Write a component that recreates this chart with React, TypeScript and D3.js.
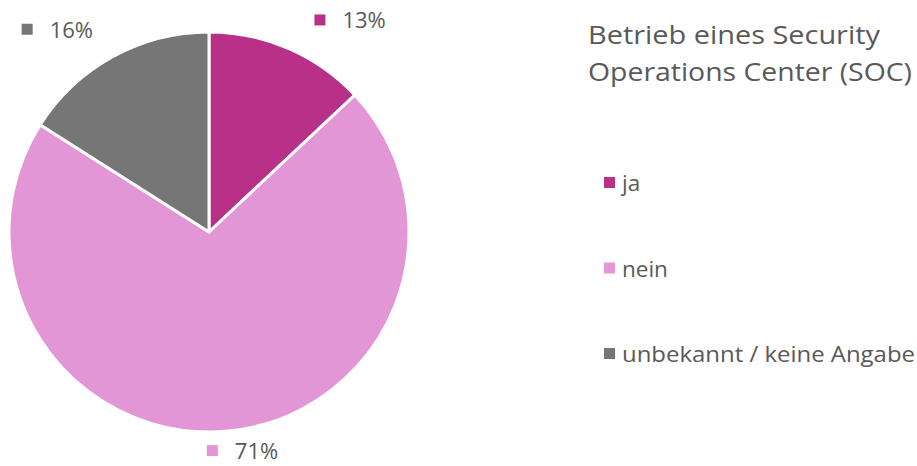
import React from "react";
import * as d3 from "d3";

const categories = ["ja", "nein", "unbekannt / keine Angabe"];
const values = [13, 71, 16];
const colors = ["#B83088", "#E396D6", "#767676"];
const title = ["Betrieb eines Security", "Operations Center (SOC)"];
// label offset (styling) relative to the slice's outer mid point
const labelOffsets = [
  { dx: 64, dy: -28 },
  { dx: 17, dy: 20 },
  { dx: -53, dy: -27 },
];

const W = 917;
const H = 466;
const cx = 209;
const cy = 232;
const R = 200;
const FONT = "'Open Sans', 'Noto Sans', sans-serif";
const TEXT = "#595959";

export default function App() {
  const pie = d3.pie<number>().sort(null).value((d) => d);
  const arcs = pie(values);
  const arc = d3.arc<d3.PieArcDatum<number>>().innerRadius(0).outerRadius(R);

  return (
    <svg
      width={W}
      height={H}
      style={{ position: "absolute", left: 0, top: 0, background: "#fff" }}
      fontFamily={FONT}
    >
      <g transform={`translate(${cx},${cy})`}>
        {arcs.map((a, i) => (
          <path key={i} d={arc(a) || ""} fill={colors[i]} stroke="#fff" strokeWidth={3} strokeLinejoin="round" />
        ))}
      </g>
      {arcs.map((a, i) => {
        const mid = (a.startAngle + a.endAngle) / 2;
        const px = cx + R * Math.sin(mid) + labelOffsets[i].dx;
        const py = cy - R * Math.cos(mid) + labelOffsets[i].dy;
        const left = px - 38;
        return (
          <g key={i}>
            <rect x={left} y={py - 6} width={11} height={11} fill={colors[i]} />
            <text x={left + 28} y={py} dy="0.36em" fontSize={22} fill={TEXT}>
              {`${values[i]}%`}
            </text>
          </g>
        );
      })}
      {title.map((t, i) => (
        <text key={i} x={588} y={44 + i * 37} fontSize={25} fill={TEXT} textLength={i === 0 ? 292 : 324} lengthAdjust="spacingAndGlyphs">
          {t}
        </text>
      ))}
      {categories.map((c, i) => (
        <g key={c}>
          <rect x={604} y={177 + i * 85.5} width={11} height={11} fill={colors[i]} />
          <text x={622} y={183 + i * 85.5} dy="0.36em" fontSize={22.5} fill={TEXT}
            textLength={i === 2 ? 293 : undefined} lengthAdjust="spacingAndGlyphs">
            {c}
          </text>
        </g>
      ))}
    </svg>
  );
}
